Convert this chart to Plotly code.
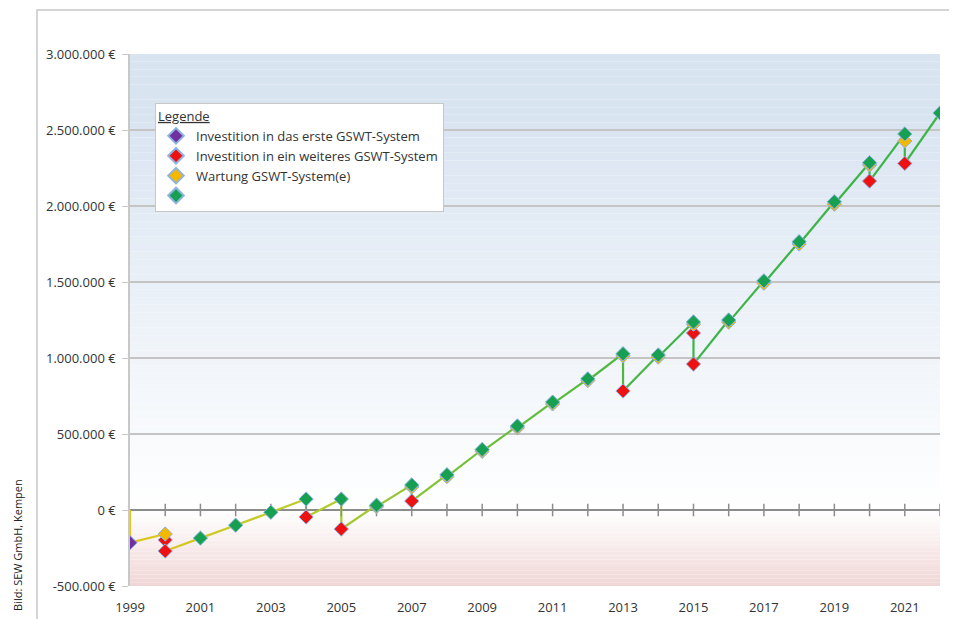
import plotly.graph_objects as go

# ---------------- data ----------------
years = list(range(1999, 2023))
line_start = 0  # value at the very start of 1999
purple_first = [-215000] + [None] * 23
yellow_maint = [None, -158000, None, None, None, None, None, 22000, 152000, 220000,
                386000, 541000, 698000, 852000, 1015000, 1006000, 1222000, 1236000,
                1492000, 1750000, 2012000, 2270000, 2428000, None]
red_invest_1 = [None, -197000, None, None, None, -46000, -125000, None, 59000, None,
                None, None, None, None, 783000, None, 1164000, None,
                None, None, None, 2164000, 2280000, None]
red_invest_2 = [None, -270000, None, None, None, None, None, None, None, None,
                None, None, None, None, None, None, 960000, None,
                None, None, None, None, None, None]
green_total = [None, None, -185000, -100000, -15000, 72000, 72000, 32000, 165000, 232000,
               398000, 553000, 710000, 863000, 1028000, 1020000, 1237000, 1250000,
               1508000, 1765000, 2028000, 2285000, 2474000, 2612000]

y_tickvals = [-500000, 0, 500000, 1000000, 1500000, 2000000, 2500000, 3000000]
y_ticktext = ["-500.000 €", "0 €", "500.000 €", "1.000.000 €", "1.500.000 €",
              "2.000.000 €", "2.500.000 €", "3.000.000 €"]
x_tickvals = list(range(1999, 2022, 2))

legend_names = ["Investition in das erste GSWT-System",
                "Investition in ein weiteres GSWT-System",
                "Wartung GSWT-System(e)", ""]

# ---------------- style ----------------
FONT = "Open Sans"
TXT = "#333333"
C_PURPLE = "#7030a0"
C_RED = "#ee1111"
C_YELLOW = "#f5b800"
C_GREEN = "#17a052"
OUTLINE = dict(color="#8db3e2", width=1)
YMIN, YMAX = -500000, 3000000
XMIN, XMAX = 1999, 2022

# page offset of the plot div (browser body margin)
OFF = 8
PL, PR, PT, PB = 130, 940, 54, 586   # plot area in page pixels
W, H = 957 - OFF, 619 - OFF
PW, PH = PR - PL, PB - PT


def px(x):
    return (x - PL) / PW


def py(y):
    return (PB - y) / PH


stops = [(1999, (226, 196, 26)), (2004, (184, 206, 42)),
         (2009, (110, 190, 55)), (2015, (60, 180, 72))]


def line_color(x):
    if x <= stops[0][0]:
        c = stops[0][1]
    elif x >= stops[-1][0]:
        c = stops[-1][1]
    else:
        for (x0, c0), (x1, c1) in zip(stops[:-1], stops[1:]):
            if x0 <= x <= x1:
                t = (x - x0) / (x1 - x0)
                c = tuple(c0[i] + (c1[i] - c0[i]) * t for i in range(3))
                break
    return "rgb(%d,%d,%d)" % tuple(int(round(v)) for v in c)


# build the sawtooth path
path = []
for i, yr in enumerate(years):
    vals = []
    if i == 0:
        vals.append(line_start)
    for series in (green_total, purple_first, yellow_maint, red_invest_1, red_invest_2):
        if series[i] is not None:
            vals.append(series[i])
    for v in vals:
        path.append((yr, v))

fig = go.Figure()

# line segments with a yellow->green colour ramp
for (x0, y0), (x1, y1) in zip(path[:-1], path[1:]):
    fig.add_trace(go.Scatter(x=[x0, x1], y=[y0, y1], mode="lines",
                             line=dict(color=line_color((x0 + x1) / 2), width=2.2),
                             showlegend=False, hoverinfo="skip"))

# year tick marks crossing the zero axis
fig.add_trace(go.Scatter(x=years[1:], y=[0] * (len(years) - 1), mode="markers",
                         marker=dict(symbol="line-ns", size=9,
                                     line=dict(color="#8c8c8c", width=1.5)),
                         showlegend=False, hoverinfo="skip"))


def add_marker_series(yvals, color, name, legend=True):
    xs = [x for x, v in zip(years, yvals) if v is not None]
    ys = [v for v in yvals if v is not None]
    fig.add_trace(go.Scatter(x=xs, y=ys, mode="markers", name=name,
                             marker=dict(symbol="diamond", size=11, color=color, line=OUTLINE),
                             showlegend=legend))


add_marker_series(purple_first, C_PURPLE, legend_names[0])
add_marker_series(red_invest_1, C_RED, legend_names[1])
add_marker_series(yellow_maint, C_YELLOW, legend_names[2])
add_marker_series(red_invest_2, C_RED, legend_names[1], legend=False)
add_marker_series(green_total, C_GREEN, legend_names[3])

# background gradient stripes
shapes = []
n_up = 60
top_c = (217, 228, 241)
for k in range(n_up):
    y0 = YMAX * k / n_up
    y1 = YMAX * (k + 1) / n_up
    t = (k + 0.5) / n_up
    t = min(1.0, t * 1.15)
    c = tuple(int(round(255 + (top_c[j] - 255) * t)) for j in range(3))
    shapes.append(dict(type="rect", xref="x", yref="y", x0=XMIN, x1=XMAX, y0=y0, y1=y1,
                       fillcolor="rgb(%d,%d,%d)" % c, line=dict(width=0), layer="below"))
n_dn = 20
bot_c = (240, 214, 214)
for k in range(n_dn):
    y0 = YMIN * k / n_dn
    y1 = YMIN * (k + 1) / n_dn
    t = (k + 0.5) / n_dn
    c = tuple(int(round(255 + (bot_c[j] - 255) * t)) for j in range(3))
    shapes.append(dict(type="rect", xref="x", yref="y", x0=XMIN, x1=XMAX, y0=y0, y1=y1,
                       fillcolor="rgb(%d,%d,%d)" % c, line=dict(width=0), layer="below"))

# outer chart frame
shapes.append(dict(type="rect", xref="paper", yref="paper",
                   x0=px(37), x1=px(952), y0=py(640), y1=py(10),
                   line=dict(color="#c8c8c8", width=1.5), fillcolor="rgba(0,0,0,0)",
                   layer="below"))

fig.update_layout(
    width=W, height=H,
    margin=dict(l=PL - OFF, r=W - (PR - OFF), t=PT - OFF, b=H - (PB - OFF), autoexpand=False),
    paper_bgcolor="white", plot_bgcolor="white",
    font=dict(family=FONT, size=13, color=TXT),
    shapes=shapes,
    showlegend=True,
    legend=dict(x=px(155), y=py(103), xanchor="left", yanchor="top",
                bgcolor="white", bordercolor="#c8c8c8", borderwidth=1,
                font=dict(family=FONT, size=13, color=TXT),
                title=dict(text="<u>Legende</u>", font=dict(family=FONT, size=13, color=TXT)),
                tracegroupgap=0, itemsizing="constant", itemwidth=30),
    annotations=[dict(text="Bild: SEW GmbH, Kempen", xref="paper", yref="paper",
                      x=px(17), y=py(545), xanchor="center", yanchor="middle", textangle=-90,
                      showarrow=False, font=dict(family=FONT, size=11, color="#222222"))],
)

fig.update_xaxes(range=[XMIN, XMAX], tickvals=x_tickvals, ticktext=[str(v) for v in x_tickvals],
                 showgrid=False, zeroline=False, showline=False, ticks="", automargin=False,
                 tickfont=dict(family=FONT, size=13, color=TXT), ticklabelstandoff=12)
fig.update_yaxes(range=[YMIN, YMAX], tickvals=y_tickvals, ticktext=y_ticktext,
                 showgrid=True, gridcolor="#c4c4c4", gridwidth=1.5,
                 zeroline=True, zerolinecolor="#8c8c8c", zerolinewidth=2,
                 showline=True, linecolor="#c8c8c8", linewidth=1.5, automargin=False,
                 ticks="outside", ticklen=6, tickcolor="#c8c8c8",
                 tickfont=dict(family=FONT, size=13, color=TXT), ticklabelstandoff=4)

fig.write_html("out.html")
